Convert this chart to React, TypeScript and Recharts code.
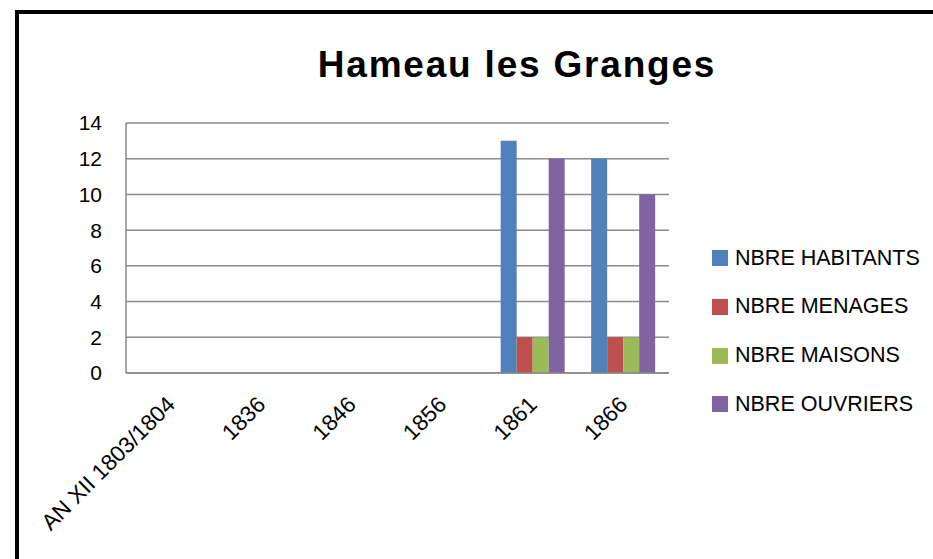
import React from "react";
import { BarChart, Bar, XAxis, YAxis, CartesianGrid } from "recharts";

const categories = ["AN XII 1803/1804", "1836", "1846", "1856", "1861", "1866"];
const habitants: (number | null)[] = [null, null, null, null, 13, 12];
const menages: (number | null)[] = [null, null, null, null, 2, 2];
const maisons: (number | null)[] = [null, null, null, null, 2, 2];
const ouvriers: (number | null)[] = [null, null, null, null, 12, 10];
const yTicks = [0, 2, 4, 6, 8, 10, 12, 14];

const series = [
  { key: "habitants", name: "NBRE HABITANTS", color: "#4F81BD", values: habitants },
  { key: "menages", name: "NBRE MENAGES", color: "#C0504D", values: menages },
  { key: "maisons", name: "NBRE MAISONS", color: "#9BBB59", values: maisons },
  { key: "ouvriers", name: "NBRE OUVRIERS", color: "#8064A2", values: ouvriers },
];

const data = categories.map((c, i) => {
  const row: Record<string, string | number | null> = { name: c };
  series.forEach((s) => {
    row[s.key] = s.values[i];
  });
  return row;
});

const FONT = "'Liberation Sans', Arial, sans-serif";

const XTick = (props: any) => {
  const { x, y, payload } = props;
  return (
    <g transform={`translate(${x + 5},${y + 33})`}>
      <text
        x={0}
        y={0}
        textAnchor="end"
        transform="rotate(-45)"
        fontSize={22.5}
        fontFamily={FONT}
        fill="#000"
      >
        {payload.value}
      </text>
    </g>
  );
};

export default function App() {
  return (
    <div
      style={{
        position: "absolute",
        left: 0,
        top: 0,
        width: 933,
        height: 559,
        overflow: "hidden",
        background: "#fff",
      }}
    >
      <div
        style={{
          position: "absolute",
          left: 15,
          top: 10,
          width: 1100,
          height: 700,
          borderLeft: "4px solid #000",
          borderTop: "4px solid #000",
          boxSizing: "border-box",
        }}
      />
      <div
        style={{
          position: "absolute",
          left: 0,
          width: 1034,
          top: 43,
          textAlign: "center",
          fontFamily: FONT,
          fontWeight: "bold",
          fontSize: 37,
          letterSpacing: 1.8,
          lineHeight: "44px",
          color: "#000",
        }}
      >
        Hameau les Granges
      </div>
      <div style={{ position: "absolute", left: 0, top: 0 }}>
        <BarChart
          width={933}
          height={559}
          data={data}
          margin={{ top: 123, right: 264, left: 66, bottom: 156 }}
          barGap={0}
          barCategoryGap="14%"
        >
          <CartesianGrid vertical={false} stroke="#8a8a8a" strokeWidth={1.5} />
          <XAxis
            dataKey="name"
            interval={0}
            tickLine={false}
            tickSize={0}
            tickMargin={0}
            axisLine={{ stroke: "#8a8a8a", strokeWidth: 1.5 }}
            tick={<XTick />}
            height={30}
          />
          <YAxis
            width={60}
            domain={[0, 14]}
            ticks={yTicks}
            interval={0}
            tickLine={false}
            tickSize={0}
            tickMargin={24}
            axisLine={{ stroke: "#8a8a8a", strokeWidth: 1.5 }}
            tick={{ fontSize: 21, fontFamily: FONT, fill: "#000" }}
          />
          {series.map((s) => (
            <Bar
              key={s.key}
              dataKey={s.key}
              name={s.name}
              fill={s.color}
              isAnimationActive={false}
            />
          ))}
        </BarChart>
      </div>
      {series.map((s, i) => (
        <div
          key={s.key}
          style={{
            position: "absolute",
            left: 712,
            top: 258 + i * 48.8 - 12,
            height: 24,
            display: "flex",
            alignItems: "center",
            fontFamily: FONT,
            fontSize: 21.5,
            color: "#000",
            whiteSpace: "nowrap",
          }}
        >
          <span
            style={{
              display: "inline-block",
              width: 16,
              height: 16,
              background: s.color,
              marginRight: 7,
            }}
          />
          {s.name}
        </div>
      ))}
    </div>
  );
}
